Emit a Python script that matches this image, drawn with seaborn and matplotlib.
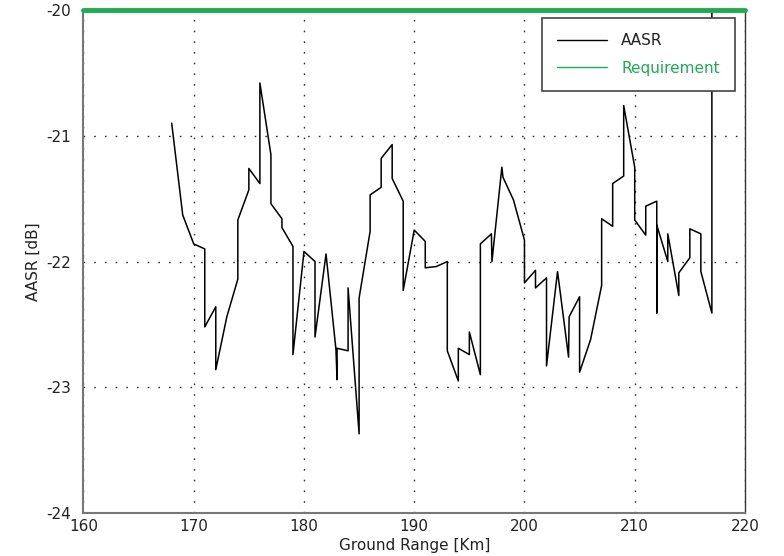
import numpy as np
import pandas as pd
import matplotlib
matplotlib.use('Agg')
import matplotlib.pyplot as plt
from matplotlib.lines import Line2D
import seaborn as sns

# dados
ground_range = [168, 169, 170, 171, 171, 172, 172, 173, 174, 174,
                175, 175, 176, 176, 177, 177, 178, 178, 179, 179,
                180, 181, 181, 182, 182.9, 183, 183, 184, 184, 185,
                185, 186, 186, 187, 187, 188, 188, 189, 189, 190,
                191, 191, 192, 193, 193, 194, 194, 195, 195, 196,
                196, 197, 197.05, 197.95, 198.05, 199, 200, 200, 201, 201,
                202, 202, 203, 204, 204.05, 205, 205, 206, 207, 207,
                208, 208, 209, 209, 210, 210, 211, 211, 212, 212,
                212, 213, 213, 214, 214, 215, 215, 216, 216, 217,
                217]
aasr = [-20.90, -21.63, -21.86, -21.90, -22.52, -22.36, -22.86, -22.44, -22.14, -21.67,
        -21.43, -21.26, -21.38, -20.58, -21.15, -21.54, -21.66, -21.73, -21.88, -22.74,
        -21.92, -22.00, -22.60, -21.94, -22.70, -22.94, -22.69, -22.71, -22.21, -23.37,
        -22.29, -21.76, -21.47, -21.41, -21.18, -21.07, -21.34, -21.52, -22.23, -21.75,
        -21.84, -22.05, -22.04, -22.00, -22.71, -22.95, -22.69, -22.74, -22.56, -22.90,
        -21.86, -21.78, -22.00, -21.25, -21.33, -21.51, -21.83, -22.17, -22.07, -22.21,
        -22.13, -22.83, -22.08, -22.76, -22.44, -22.28, -22.88, -22.62, -22.19, -21.66,
        -21.72, -21.38, -21.32, -20.76, -21.25, -21.67, -21.79, -21.56, -21.52, -22.41,
        -21.71, -22.00, -21.78, -22.27, -22.09, -21.97, -21.74, -21.78, -22.08, -22.41,
        -20.00]

req_x = [160, 220]
req_y = [-20, -20]

x_ticks = [160, 170, 180, 190, 200, 210, 220]
y_ticks = [-24, -23, -22, -21, -20]

verde = '#1aae50'

dados = pd.DataFrame({'Ground Range': ground_range, 'AASR': aasr})
req = pd.DataFrame({'x': req_x, 'y': req_y})

sns.set_style('white')
plt.rcParams['font.family'] = ['DejaVu Sans']
plt.rcParams['axes.unicode_minus'] = False

fig = plt.figure(figsize=(7.84, 5.56), dpi=100)
ax = fig.add_axes([0.1065, 0.0773, 0.8437, 0.9047])

sns.lineplot(data=dados, x='Ground Range', y='AASR', sort=False, estimator=None,
             color='black', linewidth=1.1, ax=ax)
sns.lineplot(data=req, x='x', y='y', sort=False, estimator=None,
             color=verde, linewidth=3.5, ax=ax, clip_on=False, zorder=5)

ax.set_xlim(160, 220)
ax.set_ylim(-24, -20)
ax.set_xticks(x_ticks)
ax.set_yticks(y_ticks)
ax.tick_params(length=0, labelsize=11, colors='#222222', pad=9)
ax.tick_params(axis='x', pad=4)
ax.set_xlabel('Ground Range [Km]', fontsize=11, color='#222222', labelpad=3)
ax.set_ylabel('AASR [dB]', fontsize=11, color='#222222', labelpad=4)

ax.grid(True, color='#333333', linestyle=(0, (1.2, 6.5)), linewidth=1.0)
for s in ax.spines.values():
    s.set_color('#777777')
    s.set_linewidth(1.5)
ax.spines['right'].set_color('#333333')
ax.spines['right'].set_linewidth(1.0)

handles = [Line2D([], [], color='black', linewidth=1.0),
           Line2D([], [], color=verde, linewidth=1.0)]
leg = ax.legend(handles, ['AASR', 'Requirement'], loc='upper right',
                bbox_to_anchor=(0.985, 0.984), fontsize=11, frameon=True,
                fancybox=False, framealpha=1, handlelength=3.3,
                handletextpad=0.9, labelspacing=0.8, borderpad=1.0,
                borderaxespad=0)
leg.get_frame().set_edgecolor('#444444')
leg.get_frame().set_linewidth(1.2)
leg.get_texts()[1].set_color(verde)
leg.get_texts()[0].set_color('#222222')

plt.savefig('out.png', dpi=100)
